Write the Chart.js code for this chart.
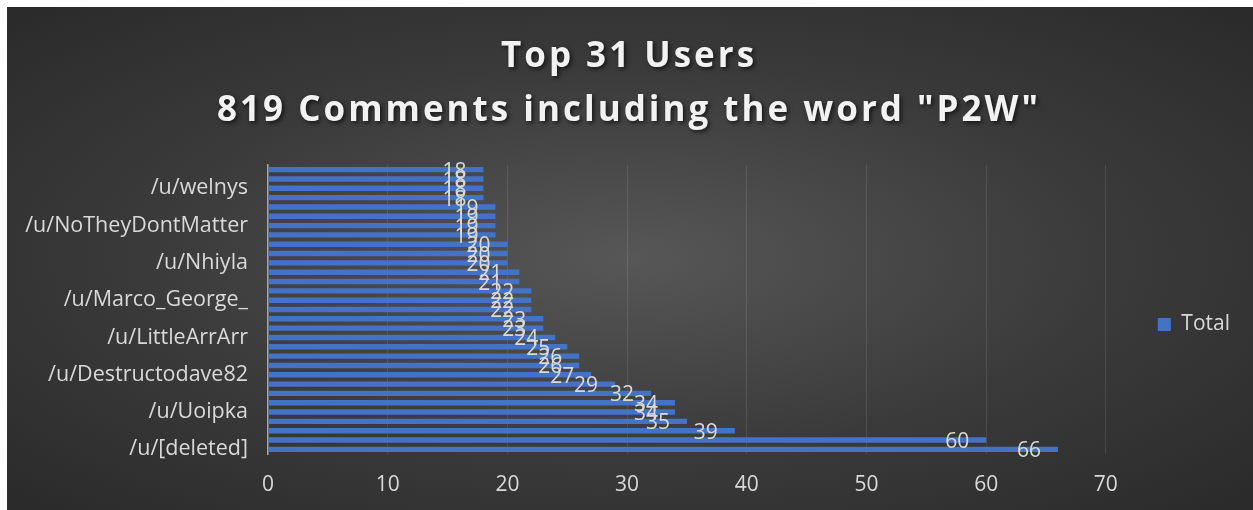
<!DOCTYPE html>
<html>
<head>
<meta charset="utf-8">
<script src="https://cdn.jsdelivr.net/npm/chart.js@4/dist/chart.umd.min.js"></script>
<style>
  html, body { margin: 0; padding: 0; background: #fff; }
  #marco {
    position: absolute; left: 7px; top: 7px; width: 1246px; height: 503px;
    background: radial-gradient(ellipse farthest-corner at 50% 50%, #575757 0%, #3a3a3a 55%, #2a2a2a 100%);
  }
  canvas { display: block; }
</style>
</head>
<body>
<div id="marco"><canvas id="grafico" width="1246" height="503"></canvas></div>
<script>
// Usuarios (de abajo hacia arriba); solo se leen los nombres cada cuatro filas
const usuarios = [
  '/u/[deleted]', '', '', '',
  '/u/Uoipka', '', '', '',
  '/u/Destructodave82', '', '', '',
  '/u/LittleArrArr', '', '', '',
  '/u/Marco_George_', '', '', '',
  '/u/Nhiyla', '', '', '',
  '/u/NoTheyDontMatter', '', '', '',
  '/u/welnys', '', ''
];

// Comentarios por usuario, mismo orden
const totales = [66, 60, 39, 35, 34, 34, 32, 29, 27, 26, 26, 25, 24, 23, 23,
  22, 22, 22, 21, 21, 20, 20, 20, 19, 19, 19, 19, 18, 18, 18, 18];

const titulo = ['Top 31 Users', '819 Comments including the word "P2W"'];
const nombreSerie = 'Total';
const ticksX = [0, 10, 20, 30, 40, 50, 60, 70];

const colorTexto = '#d9d9d9';
const fuente = '"Open Sans", sans-serif';

// Título con sombra, dibujado a mano
const tituloConSombra = {
  id: 'tituloConSombra',
  afterDraw(chart) {
    const ctx = chart.ctx;
    ctx.save();
    ctx.font = 'bold 35px "Open Sans", sans-serif';
    ctx.letterSpacing = '3px';
    ctx.fillStyle = '#f2f2f2';
    ctx.textAlign = 'center';
    ctx.textBaseline = 'alphabetic';
    ctx.shadowColor = 'rgba(0, 0, 0, 0.65)';
    ctx.shadowBlur = 4;
    ctx.shadowOffsetX = 2;
    ctx.shadowOffsetY = 2;
    ctx.fillText(titulo[0], 622, 60);
    ctx.fillText(titulo[1], 622, 114);
    ctx.restore();
  }
};

// Etiquetas de valor junto al final de cada barra
const etiquetasValor = {
  id: 'etiquetasValor',
  afterDatasetsDraw(chart) {
    const ctx = chart.ctx;
    const meta = chart.getDatasetMeta(0);
    ctx.save();
    ctx.font = '21px ' + fuente;
    ctx.fillStyle = colorTexto;
    ctx.textAlign = 'center';
    ctx.textBaseline = 'middle';
    meta.data.forEach((barra, i) => {
      ctx.fillText(String(totales[i]), barra.x - 29, barra.y + 2);
    });
    ctx.restore();
  }
};

new Chart(document.getElementById('grafico'), {
  type: 'bar',
  data: {
    labels: usuarios,
    datasets: [{
      label: nombreSerie,
      data: totales,
      backgroundColor: '#4472C4',
      borderWidth: 0,
      categoryPercentage: 1,
      barPercentage: 0.58
    }]
  },
  options: {
    indexAxis: 'y',
    responsive: false,
    animation: false,
    layout: { padding: { top: 158, right: 13, bottom: 0, left: 0 } },
    scales: {
      x: {
        min: 0,
        max: 70,
        afterBuildTicks: (eje) => { eje.ticks = ticksX.map(v => ({ value: v })); },
        afterFit: (eje) => { eje.height = 56; },
        grid: { color: 'rgba(255, 255, 255, 0.1)', drawTicks: false },
        border: { display: false },
        ticks: { padding: 18, color: colorTexto, font: { family: fuente, size: 21 } }
      },
      y: {
        reverse: true,
        afterFit: (eje) => { eje.width = 261; },
        grid: { display: false },
        border: { color: '#a6a6a6', width: 1.5 },
        ticks: { autoSkip: false, padding: 12, color: colorTexto, font: { family: fuente, size: 21.5 } }
      }
    },
    plugins: {
      tooltip: { enabled: false },
      legend: {
        position: 'right',
        fullSize: false,
        title: { display: true, text: ' ', font: { size: 20, lineHeight: 1.5 }, padding: 0 },
        labels: {
          boxWidth: 13,
          boxHeight: 13,
          padding: 52,
          color: colorTexto,
          font: { family: fuente, size: 21 }
        }
      }
    }
  },
  plugins: [tituloConSombra, etiquetasValor]
});
</script>
</body>
</html>
